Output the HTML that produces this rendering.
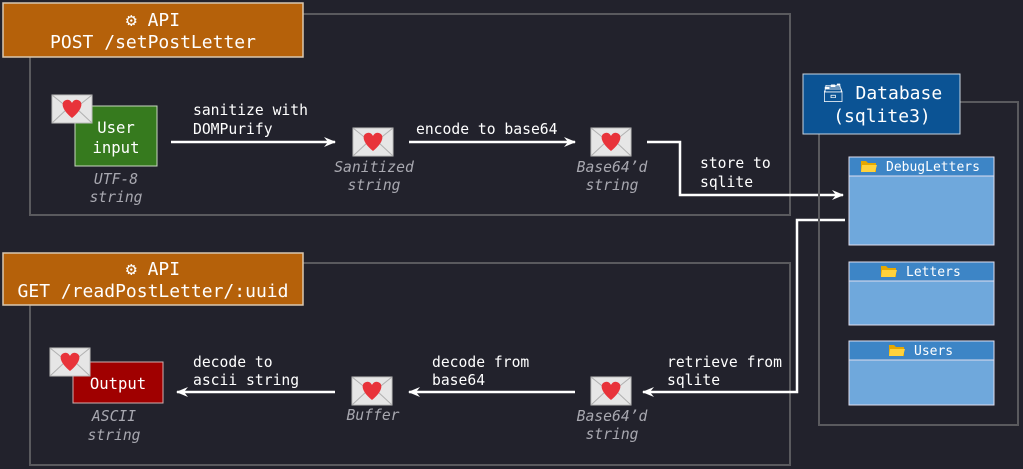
<!DOCTYPE html>
<html><head><meta charset="utf-8"><style>
html,body{margin:0;padding:0;background:#22222c;}
svg{display:block;font-family:"DejaVu Sans Mono","Liberation Mono",monospace;}
.t{fill:#fff;font-size:14.7px;}
.i{fill:#a8a8b0;font-size:14.7px;font-style:italic;}
.h{fill:#fff;font-size:18px;}
.b{fill:#fff;font-size:15.6px;}
.s{fill:#fff;font-size:13px;}
</style></head><body>
<svg width="1023" height="469" viewBox="0 0 1023 469" xmlns="http://www.w3.org/2000/svg">
<defs>
<marker id="ah" viewBox="0 0 12 10" refX="11" refY="5" markerWidth="12" markerHeight="10" markerUnits="userSpaceOnUse" orient="auto">
<path d="M0,0 L12,5 L0,10 L4,5 Z" fill="#fff"/></marker>
<g id="env">
<rect x="0" y="0" width="40" height="28" fill="#e6e6e6" stroke="#bdbdbd"/>
<path d="M0,0 L20,16 L40,0 M0,28 L15,14 M40,28 L25,14" stroke="#b0b0b0" fill="none"/>
<path d="M20,23 C10,15 8,7 14,5 C17,4 19,6 20,8 C21,6 23,4 26,5 C32,7 30,15 20,23 Z" fill="#e8333a"/>
</g>
<g id="fold">
<path d="M0,2 h5 l2,2 h8 v9 h-15 z" fill="#e6a800"/><path d="M1,6 h15 l-2,7 h-14 z" fill="#ffd23c"/>
</g>
</defs>
<rect width="1023" height="469" fill="#22222c"/>

<rect x="30" y="14" width="760" height="201" fill="none" stroke="#5a5a5e" stroke-width="2"/>
<rect x="3" y="3" width="300" height="54" fill="#b5610a" stroke="#d9c8b0" stroke-width="1.5"/>
<text x="153" y="26" class="h" text-anchor="middle">⚙ API</text>
<text x="153" y="48" class="h" text-anchor="middle">POST /setPostLetter</text>

<rect x="75" y="106" width="82" height="60" fill="#367a1e" stroke="#c8d8c0" stroke-width="1"/>
<text x="116" y="133" class="b" text-anchor="middle">User</text>
<text x="116" y="153" class="b" text-anchor="middle">input</text>
<use href="#env" x="52" y="95"/>
<text x="116" y="184" class="i" text-anchor="middle">UTF-8</text>
<text x="116" y="202" class="i" text-anchor="middle">string</text>

<line x1="171" y1="142" x2="335" y2="142" stroke="#fff" stroke-width="2.5" marker-end="url(#ah)"/>
<text x="193" y="115" class="t">sanitize with</text>
<text x="193" y="134" class="t">DOMPurify</text>
<use href="#env" x="353" y="128"/>
<text x="374" y="172" class="i" text-anchor="middle">Sanitized</text>
<text x="374" y="190" class="i" text-anchor="middle">string</text>

<line x1="409" y1="142" x2="575" y2="142" stroke="#fff" stroke-width="2.5" marker-end="url(#ah)"/>
<text x="416" y="134" class="t">encode to base64</text>
<use href="#env" x="591" y="128"/>
<text x="612" y="172" class="i" text-anchor="middle">Base64’d</text>
<text x="612" y="190" class="i" text-anchor="middle">string</text>

<polyline points="647,142 680,142 680,195 843,195" fill="none" stroke="#fff" stroke-width="2.5" marker-end="url(#ah)"/>
<text x="700" y="168" class="t">store to</text>
<text x="700" y="187" class="t">sqlite</text>

<rect x="30" y="263" width="760" height="202" fill="none" stroke="#5a5a5e" stroke-width="2"/>
<rect x="3" y="253" width="300" height="52" fill="#b5610a" stroke="#d9c8b0" stroke-width="1.5"/>
<text x="153" y="275" class="h" text-anchor="middle">⚙ API</text>
<text x="153" y="297" class="h" text-anchor="middle">GET /readPostLetter/:uuid</text>

<rect x="73" y="362" width="90" height="41" fill="#a00000" stroke="#d0b0b0" stroke-width="1"/>
<text x="118" y="389" class="b" text-anchor="middle">Output</text>
<use href="#env" x="50" y="348"/>
<text x="114" y="421" class="i" text-anchor="middle">ASCII</text>
<text x="114" y="440" class="i" text-anchor="middle">string</text>

<line x1="335" y1="392" x2="177" y2="392" stroke="#fff" stroke-width="2.5" marker-end="url(#ah)"/>
<text x="193" y="367" class="t">decode to</text>
<text x="193" y="385" class="t">ascii string</text>
<use href="#env" x="352" y="377"/>
<text x="373" y="420" class="i" text-anchor="middle">Buffer</text>

<line x1="575" y1="392" x2="409" y2="392" stroke="#fff" stroke-width="2.5" marker-end="url(#ah)"/>
<text x="432" y="367" class="t">decode from</text>
<text x="432" y="385" class="t">base64</text>
<use href="#env" x="591" y="377"/>
<text x="612" y="421" class="i" text-anchor="middle">Base64’d</text>
<text x="612" y="439" class="i" text-anchor="middle">string</text>

<polyline points="845,220 797,220 797,392 643,392" fill="none" stroke="#fff" stroke-width="2.5" marker-end="url(#ah)"/>
<text x="667" y="367" class="t">retrieve from</text>
<text x="667" y="385" class="t">sqlite</text>

<rect x="819" y="102" width="199" height="323" fill="none" stroke="#5a5a5e" stroke-width="2"/>
<rect x="803" y="74" width="157" height="60" fill="#0b5394" stroke="#c8d4e0" stroke-width="1"/>
<text x="882" y="99" class="h" text-anchor="middle">🗃 Database</text>
<text x="882" y="122" class="h" text-anchor="middle">(sqlite3)</text>

<rect x="849" y="157" width="145" height="88" fill="#6fa8dc" stroke="#dde" stroke-width="1"/>
<rect x="849" y="157" width="145" height="19" fill="#3d85c6" stroke="#dde" stroke-width="1"/>
<use href="#fold" x="861" y="159"/>
<text x="886" y="171" class="s">DebugLetters</text>

<rect x="849" y="262" width="145" height="63" fill="#6fa8dc" stroke="#dde" stroke-width="1"/>
<rect x="849" y="262" width="145" height="19" fill="#3d85c6" stroke="#dde" stroke-width="1"/>
<use href="#fold" x="881" y="264"/>
<text x="906" y="276" class="s">Letters</text>

<rect x="849" y="341" width="145" height="64" fill="#6fa8dc" stroke="#dde" stroke-width="1"/>
<rect x="849" y="341" width="145" height="19" fill="#3d85c6" stroke="#dde" stroke-width="1"/>
<use href="#fold" x="889" y="343"/>
<text x="914" y="355" class="s">Users</text>
</svg>
</body></html>
